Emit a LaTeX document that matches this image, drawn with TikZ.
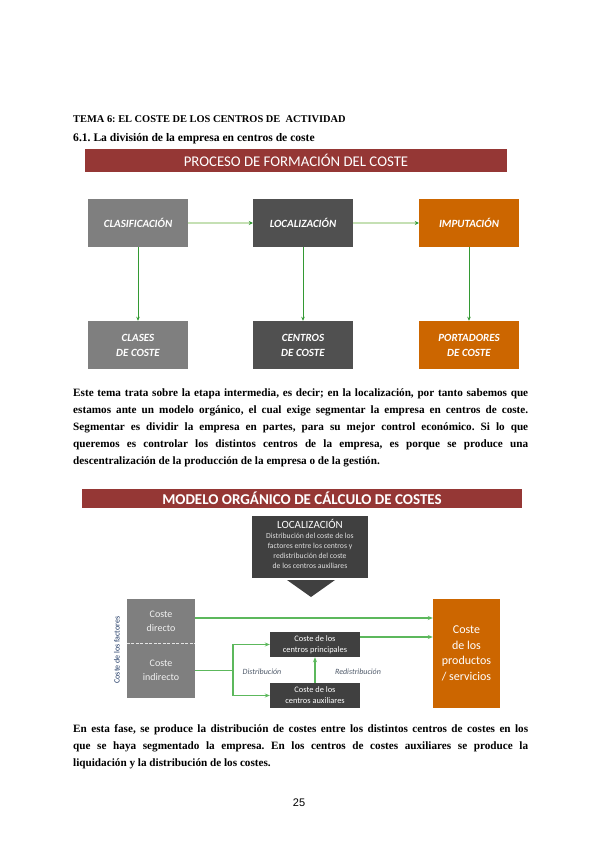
\documentclass[tikz,border=0pt]{standalone}
\usepackage{fontspec}
\setmainfont{Liberation Serif}
\newfontfamily\calfont{Carlito}
\newfontfamily\arialfont{Liberation Sans}
\usetikzlibrary{arrows.meta}
\definecolor{bannerc}{HTML}{953735}
\definecolor{gboxc}{HTML}{7F7F7F}
\definecolor{dboxc}{HTML}{505050}
\definecolor{locc}{HTML}{404040}
\definecolor{oboxc}{HTML}{CC6600}
\definecolor{lgreen}{HTML}{C5E0B4}
\definecolor{dgreen}{HTML}{339933}
\definecolor{mgreen}{HTML}{5CB85C}
\definecolor{navyc}{HTML}{1F3864}
\definecolor{labc}{HTML}{4F5A6A}
\frenchspacing
\begin{document}
\begin{tikzpicture}[x=1pt,y=-1pt,
  banner/.style={fill=bannerc, text=white, inner sep=0pt, font=\calfont},
  pbox/.style={minimum width=100pt, minimum height=48pt, inner sep=0pt, text=white, align=center,
     font=\calfont\bfseries\itshape\fontsize{11}{13}\selectfont},
  hline/.style={lgreen, line width=1.6pt, -{Stealth[length=4pt,width=4pt,color=dgreen]}},
  vline/.style={dgreen, line width=0.8pt, -{Stealth[length=4pt,width=3.5pt]}},
  garr/.style={mgreen, line width=1.1pt, -{Stealth[length=5pt,width=4pt]}},
  gline/.style={mgreen, line width=1.1pt},
  sbox/.style={fill=locc, text=white, inner sep=0pt, align=center, font=\calfont\fontsize{8.4}{11}\selectfont},
  body/.style={anchor=north west, inner sep=0pt, text width=455pt, align=justify,
     font=\bfseries\fontsize{11.2}{17}\selectfont},
  lab/.style={text=labc, font=\calfont\itshape\fontsize{8}{9}\selectfont, inner sep=0pt}
]
\useasboundingbox[fill=white] (0,0) rectangle (599,848);

% headings
\node[anchor=base west, inner sep=0pt, font=\bfseries\fontsize{10.4}{12}\selectfont] (t1) at (73,122) {TEMA 6: EL COSTE DE LOS CENTROS DE\ \ ACTIVIDAD};
\node[anchor=base west, inner sep=0pt, font=\bfseries\fontsize{11.6}{13}\selectfont] (t2) at (73,141) {6.1. La división de la empresa en centros de coste};

% banner 1
\node[banner, minimum width=422pt, minimum height=23pt, font=\calfont\fontsize{14.8}{16}\selectfont] (b1) at (296,160.5) {PROCESO DE FORMACIÓN DEL COSTE};

% process boxes
\node[pbox, fill=gboxc] (cla) at (138,223) {CLASIFICACIÓN};
\node[pbox, fill=dboxc] (loc) at (303,223) {LOCALIZACIÓN};
\node[pbox, fill=oboxc] (imp) at (469,223) {IMPUTACIÓN};
\node[pbox, fill=gboxc] (cls) at (138,345) {CLASES\\[2pt]DE COSTE};
\node[pbox, fill=dboxc] (cen) at (303,345) {CENTROS\\[2pt]DE COSTE};
\node[pbox, fill=oboxc] (por) at (469,345) {PORTADORES\\[2pt]DE COSTE};
\draw[hline] (cla) -- (loc);
\draw[hline] (loc) -- (imp);
\draw[vline] (cla) -- (cls);
\draw[vline] (loc) -- (cen);
\draw[vline] (imp) -- (por);

% paragraph 1
\node[body] (p1) at (73,389) {Este tema trata sobre la etapa intermedia, es decir; en la localización, por tanto sabemos que\linebreak
estamos ante un modelo orgánico, el cual exige segmentar la empresa en centros de coste.\linebreak
Segmentar es dividir la empresa en partes, para su mejor control económico. Si lo que\linebreak
queremos es controlar los distintos centros de la empresa, es porque se produce una\linebreak
descentralización de la producción de la empresa o de la gestión.};

% banner 2
\node[banner, minimum width=440pt, minimum height=19pt, font=\calfont\bfseries\fontsize{15}{17}\selectfont] (b2) at (302,498.5) {MODELO ORGÁNICO DE CÁLCULO DE COSTES};

% localizacion box
\node[sbox, minimum width=116pt, minimum height=62pt] (lz) at (310,547) {};
\node[text=white, font=\calfont\fontsize{11}{12}\selectfont, inner sep=0pt] (lzt) at (310,524) {LOCALIZACIÓN};
\node[text=white!88!black, font=\calfont\fontsize{7.7}{10}\selectfont, inner sep=0pt, align=center, anchor=north] (lzb) at (310,533)
  {Distribución del coste de los\\factores entre los centros y\\redistribución del coste\\de los centros auxiliares};
\coordinate (tipA) at (287,580);
\coordinate (tipB) at (335,580);
\coordinate (tipC) at (311,597);
\fill[locc] (tipA) -- (tipB) -- (tipC) -- cycle;

% factor cost box
\node[fill=gboxc, minimum width=68pt, minimum height=44pt, inner sep=0pt, text=white!90!gray, align=center,
  font=\calfont\fontsize{10}{14}\selectfont] (cd) at (161,621) {Coste\\directo};
\node[fill=gboxc, minimum width=68pt, minimum height=55pt, inner sep=0pt, text=white!90!gray, align=center,
  font=\calfont\fontsize{10}{14}\selectfont] (ci) at (161,670.5) {Coste\\indirecto};
\draw[white!80!gray, dashed, line width=0.8pt, dash pattern=on 3pt off 1.5pt] (cd.south west) -- (cd.south east);
\node[rotate=90, text=navyc, font=\calfont\fontsize{8}{9}\selectfont, inner sep=0pt] (fac) at (117,650) {Coste de los factores};

% centers
\node[sbox, minimum width=90pt, minimum height=25pt] (cp) at (315,644.5) {Coste de los\\centros principales};
\node[sbox, minimum width=90pt, minimum height=25pt] (ca) at (315,695.5) {Coste de los\\centros auxiliares};

% product box
\node[fill=oboxc, minimum width=67pt, minimum height=109pt, inner sep=0pt, text=white, align=center,
  font=\calfont\fontsize{12}{15.5}\selectfont] (prod) at (466.5,653.5) {Coste\\de los\\productos\\/ servicios};

% arrows
\draw[garr] ([yshift=3pt]cd.east) -- ([yshift=3pt]cd.east -| prod.west);
\draw[garr] ([yshift=7.5pt]cp.east) -- ([yshift=7.5pt]cp.east -| prod.west);
\coordinate (sp) at (233,670.5);
\draw[gline] (ci.east) -- (sp);
\draw[garr] (sp) |- (cp.west);
\draw[garr] (sp) |- (ca.west);
\draw[garr] (ca.north) -- (cp.south);
\node[lab] (dis) at (262,672) {Distribución};
\node[lab] (red) at (358,672) {Redistribución};

% paragraph 2
\node[body] (p2) at (73,724) {En esta fase, se produce la distribución de costes entre los distintos centros de costes en los\linebreak
que se haya segmentado la empresa. En los centros de costes auxiliares se produce la\linebreak
liquidación y la distribución de los costes.};

% page number
\node[font=\arialfont\fontsize{11}{12}\selectfont, inner sep=0pt] (pg) at (299,803) {25};
\end{tikzpicture}
\end{document}
